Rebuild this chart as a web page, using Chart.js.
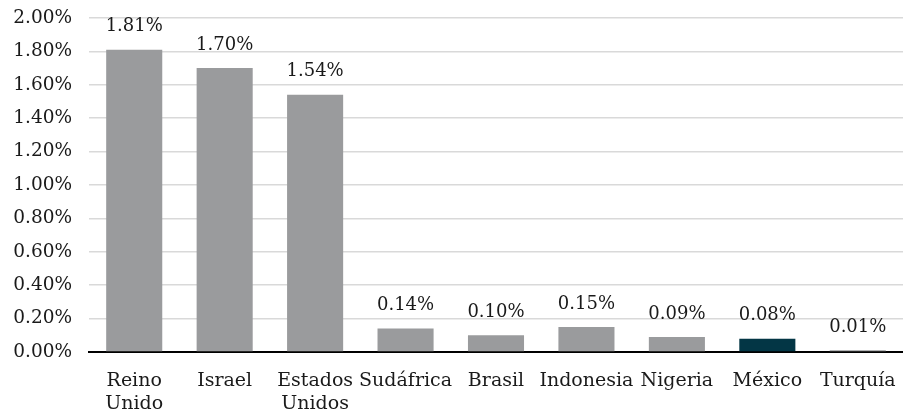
<!DOCTYPE html>
<html>
<head>
<meta charset="utf-8">
<script src="https://cdn.jsdelivr.net/npm/chart.js@4.4.1/dist/chart.umd.min.js"></script>
<style>
  html, body { margin: 0; padding: 0; background: #fff; }
</style>
</head>
<body>
<canvas id="grafica" width="903" height="417"></canvas>
<script>
const paises = [['Reino', 'Unido'], 'Israel', ['Estados', 'Unidos'], 'Sudáfrica', 'Brasil', 'Indonesia', 'Nigeria', 'México', 'Turquía'];
const valores = [1.81, 1.70, 1.54, 0.14, 0.10, 0.15, 0.09, 0.08, 0.01];
const colores = ['#9a9b9d', '#9a9b9d', '#9a9b9d', '#9a9b9d', '#9a9b9d', '#9a9b9d', '#9a9b9d', '#033645', '#9a9b9d'];
const ticksY = [0, 0.2, 0.4, 0.6, 0.8, 1.0, 1.2, 1.4, 1.6, 1.8, 2.0];

const fuente = 'DejaVu Serif';

const etiquetas = {
    id: 'etiquetas',
    afterDatasetsDraw(chart) {
        const ctx = chart.ctx;
        const meta = chart.getDatasetMeta(0);
        ctx.save();
        ctx.font = `18px "${fuente}"`;
        ctx.fillStyle = '#1a1a1a';
        ctx.textAlign = 'center';
        ctx.textBaseline = 'middle';
        meta.data.forEach((barra, i) => {
            ctx.fillText(valores[i].toFixed(2) + '%', barra.x, barra.y - 23);
        });
        ctx.restore();
    }
};

new Chart(document.getElementById('grafica'), {
    type: 'bar',
    data: {
        labels: paises,
        datasets: [{
            data: valores,
            backgroundColor: colores,
            barPercentage: 0.62,
            categoryPercentage: 1
        }]
    },
    options: {
        responsive: false,
        animation: false,
        layout: { padding: { top: 18, right: 0, left: 0, bottom: 0 } },
        plugins: { legend: { display: false }, tooltip: { enabled: false } },
        scales: {
            x: {
                grid: { display: false, drawTicks: false },
                border: { display: true, color: '#000', width: 2 },
                afterFit(scale) {
                    scale.height = 65;
                    scale.paddingLeft = 0;
                    scale.paddingRight = 0;
                },
                ticks: {
                    color: '#1a1a1a',
                    font: { family: fuente, size: 19, lineHeight: 1.2 },
                    padding: 18,
                    maxRotation: 0,
                    autoSkip: false
                }
            },
            y: {
                min: 0,
                max: 2,
                afterBuildTicks(scale) {
                    scale.ticks = ticksY.map(v => ({ value: v }));
                },
                afterFit(scale) {
                    scale.width = 89;
                    scale.paddingTop = 0;
                    scale.paddingBottom = 0;
                },
                grid: { color: '#d9d9d9', lineWidth: 1.5, drawTicks: false },
                border: { display: false },
                ticks: {
                    color: '#1a1a1a',
                    font: { family: fuente, size: 18.5 },
                    padding: 17,
                    callback: v => v.toFixed(2) + '%'
                }
            }
        }
    },
    plugins: [etiquetas]
});
</script>
</body>
</html>
